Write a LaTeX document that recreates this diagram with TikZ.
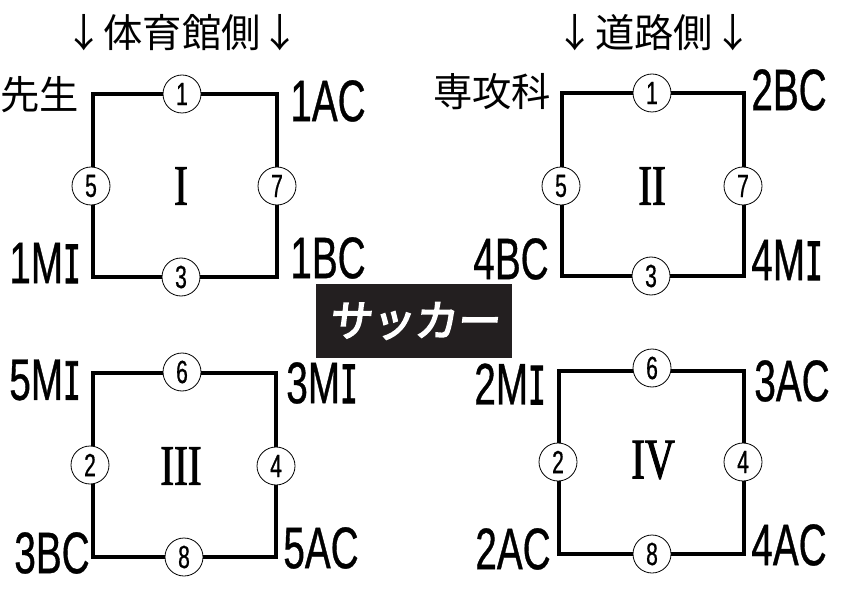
\documentclass[tikz,border=0pt]{standalone}
\usepackage{fontspec}
\newfontfamily\labelfont[FakeStretch=0.66,FakeBold=0.6]{Liberation Sans}
\newfontfamily\slabfont[FakeStretch=0.5,FakeBold=1.2]{Liberation Mono}
\newfontfamily\romanfont[FakeStretch=0.72,FakeBold=1.6]{Liberation Serif}
\newfontfamily\jpfont{Noto Sans CJK JP}
\newfontfamily\jpboldfont[FakeBold=4,FakeSlant=0.12]{Noto Sans CJK JP}
\newcommand\slabI{{\slabfont I}}

\tikzset{every picture/.style={line width=0.75pt}}
\tikzset{
  room/.style={line width=2.4pt, line join=miter},
  seat/.style={circle, draw, fill=white, line width=0.6pt, minimum size=28.5pt, inner sep=0pt,
    font=\labelfont\fontsize{24}{24}\selectfont},
  classlbl/.style={inner sep=0.75pt, font=\labelfont\fontsize{44}{44}\selectfont},
  jplbl/.style={inner sep=0.75pt, font=\jpfont\fontsize{29.5}{29.5}\selectfont},
  blocklbl/.style={inner sep=0pt, font=\romanfont\fontsize{43}{43}\selectfont},
}

\begin{document}
\begin{tikzpicture}[x=0.75pt,y=0.75pt,yscale=-1,xscale=1]
\useasboundingbox (0,0) rectangle (842,595);

% Titles
\node [jplbl] (gym) at (182,33) {↓体育館側↓};
\node [jplbl] (road) at (654,33) {↓道路側↓};

%Shape: Square I
\draw [room] (93,94) rectangle (277,277);
\node [seat] (s1a) at (182,94) {1};
\node [seat] (s1b) at (91,186) {5};
\node [seat] (s1c) at (277,186) {7};
\node [seat] (s1d) at (181,277) {3};
\node [blocklbl] (blk1) at (181,186) {I};
% Text Node
\node [jplbl] (sensei) at (40,95) {先生};
\node [classlbl] (c1ac) at (328,101) {1AC};
\node [classlbl] (c1mi) at (45,263) {1M\slabI};
\node [classlbl] (c1bc) at (328,258) {1BC};

%Shape: Square II
\draw [room] (562,93) rectangle (744,276);
\node [seat] (s2a) at (652,93) {1};
\node [seat] (s2b) at (561,186) {5};
\node [seat] (s2c) at (743,186) {7};
\node [seat] (s2d) at (651,276) {3};
\node [blocklbl] (blk2) at (652,186) {II};
% Text Node
\node [jplbl] (senkou) at (492,92) {専攻科};
\node [classlbl] (c2bc) at (789,90) {2BC};
\node [classlbl] (c4bc) at (511,259) {4BC};
\node [classlbl] (c4mi) at (787,260) {4M\slabI};

%Shape: Soccer
\node [fill={rgb,255:red,35;green,31;blue,32}, minimum width=196pt*0.75, minimum height=74pt*0.75,
  inner sep=0pt, text=white, font=\jpboldfont\fontsize{32}{32}\selectfont] (soccer) at (414,321) {サッカー};

%Shape: Square III
\draw [room] (93,373) rectangle (276,557);
\node [seat] (s3a) at (182,372) {6};
\node [seat] (s3b) at (90,465) {2};
\node [seat] (s3c) at (276,466) {4};
\node [seat] (s3d) at (184,557) {8};
\node [blocklbl] (blk3) at (181,466) {III};
% Text Node
\node [classlbl] (c5mi) at (45,380) {5M\slabI};
\node [classlbl] (c3mi) at (322,383) {3M\slabI};
\node [classlbl] (c3bc) at (52,553) {3BC};
\node [classlbl] (c5ac) at (321,548) {5AC};

%Shape: Square IV
\draw [room] (559,371) rectangle (744,554);
\node [seat] (s4a) at (652,368) {6};
\node [seat] (s4b) at (558,462) {2};
\node [seat] (s4c) at (743,462) {4};
\node [seat] (s4d) at (652,554) {8};
\node [blocklbl] (blk4) at (653,460) {IV};
% Text Node
\node [classlbl] (c2mi) at (510,384) {2M\slabI};
\node [classlbl] (c3ac) at (792,381) {3AC};
\node [classlbl] (c2ac) at (513,549) {2AC};
\node [classlbl] (c4ac) at (789,545) {4AC};

\end{tikzpicture}
\end{document}
